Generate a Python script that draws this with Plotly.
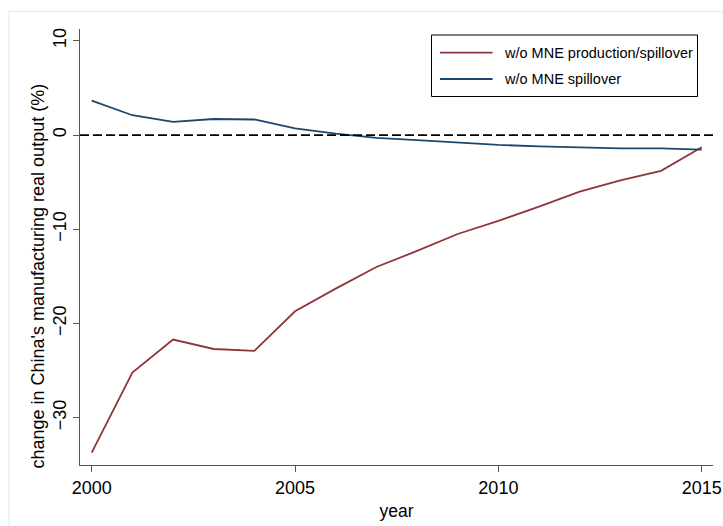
import plotly.graph_objects as go

# Simulated change in China's manufacturing real output (%), by year
years = list(range(2000, 2016))
no_production_spillover = [-33.7, -25.2, -21.7, -22.7, -22.9, -18.7, -16.3, -14.0,
                           -12.3, -10.5, -9.1, -7.6, -6.0, -4.8, -3.8, -1.3]
no_spillover = [3.65, 2.1, 1.4, 1.7, 1.65, 0.7, 0.15, -0.3,
                -0.55, -0.8, -1.05, -1.2, -1.35, -1.42, -1.42, -1.55]

series_names = ["w/o MNE production/spillover", "w/o MNE spillover"]
series_colors = ["#90353b", "#1a476f"]

x_ticks = [2000, 2005, 2010, 2015]
y_ticks = [-30, -20, -10, 0, 10]
y_title = "change in China's manufacturing real output (%)"

FONT = "Liberation Sans, Arial, Helvetica, sans-serif"
W, H = 723, 526
ML, MR, MT, MB = 80, 10, 29, 61
PW, PH = W - ML - MR, H - MT - MB


def px(x):
    return (x - ML) / PW


def py(y):
    return (H - MB - y) / PH


fig = go.Figure()
for vals, name, col in zip([no_production_spillover, no_spillover], series_names, series_colors):
    fig.add_trace(go.Scatter(x=years, y=vals, mode="lines", name=name,
                             line=dict(color=col, width=1.8), showlegend=False))

shapes = [
    # zero reference line
    dict(type="line", xref="paper", yref="y", x0=0, x1=1, y0=0, y1=0,
         line=dict(color="black", width=1.8, dash="9px,4px")),
    # outer graph region border
    dict(type="rect", xref="paper", yref="paper", x0=px(9), x1=px(740), y0=py(11.5), y1=py(545),
         line=dict(color="#dde8ec", width=1), layer="below"),
    # legend frame
    dict(type="rect", xref="paper", yref="paper", x0=px(431.5), x1=px(697.5), y0=py(35), y1=py(96.5),
         line=dict(color="black", width=1), fillcolor="white"),
]
annotations = [
    # vertical axis title
    dict(xref="paper", yref="paper", x=px(37.5), y=py(276), text=y_title, textangle=-90,
         showarrow=False, xanchor="center", yanchor="middle",
         font=dict(family=FONT, size=18, color="black")),
]
for i, (name, col) in enumerate(zip(series_names, series_colors)):
    yy = 52.7 + i * 26.3
    shapes.append(dict(type="line", xref="paper", yref="paper", x0=px(440), x1=px(492.5),
                       y0=py(yy), y1=py(yy), line=dict(color=col, width=1.8)))
    annotations.append(dict(xref="paper", yref="paper", x=px(502), y=py(yy), text=name,
                            showarrow=False, xanchor="left", yanchor="middle",
                            font=dict(family=FONT, size=14.5, color="black")))

fig.update_layout(
    width=W, height=H,
    margin=dict(l=ML, r=MR, t=MT, b=MB, autoexpand=False),
    paper_bgcolor="white", plot_bgcolor="white",
    font=dict(family=FONT, color="black"),
    shapes=shapes, annotations=annotations,
    xaxis=dict(range=[1999.712, 2015.278], tickvals=x_ticks, showgrid=False, zeroline=False,
               showline=True, linecolor="#555555", linewidth=1.2, ticks="outside", ticklen=6,
               tickcolor="#555555", tickwidth=1.2, tickfont=dict(size=18, family=FONT),
               title=dict(text="year", font=dict(size=17.5, family=FONT), standoff=8),
               automargin=False),
    yaxis=dict(range=[-35.01, 11.25], tickvals=y_ticks, showgrid=False, zeroline=False,
               showline=True, linecolor="#555555", linewidth=1.2, ticks="outside", ticklen=6,
               tickcolor="#555555", tickwidth=1.2, tickangle=-90, tickfont=dict(size=18, family=FONT),
               automargin=False),
)

fig.write_html("out.html")
